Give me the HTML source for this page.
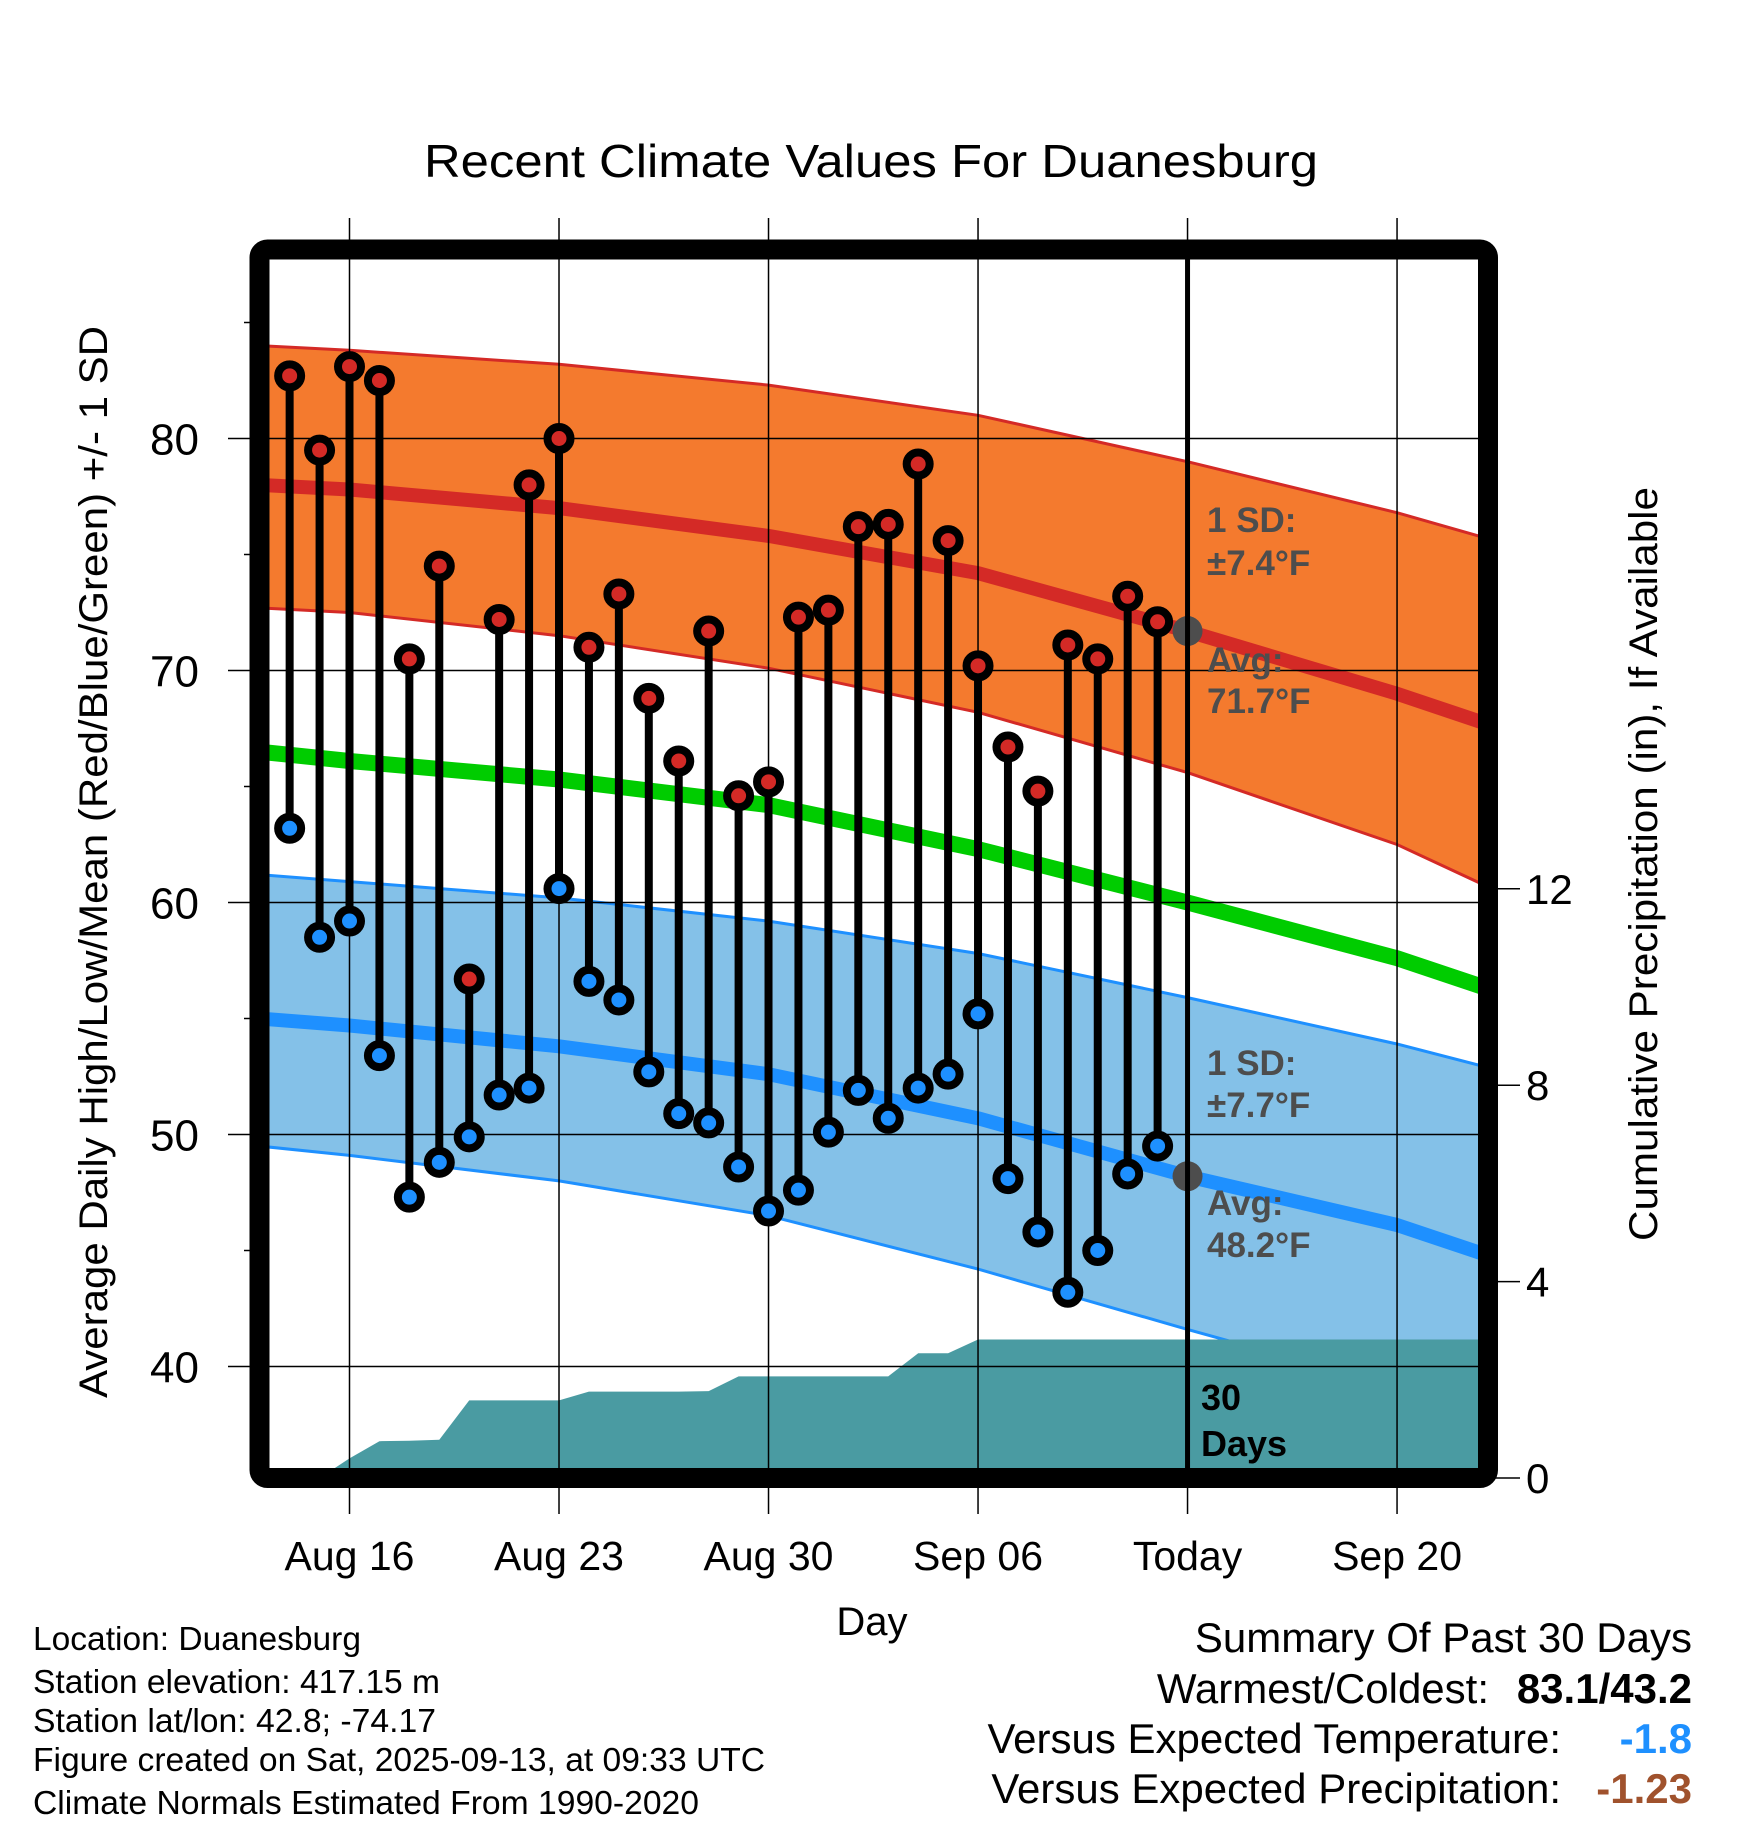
<!DOCTYPE html>
<html><head><meta charset="utf-8"><style>html,body{margin:0;padding:0;background:#fff}svg{display:block}text{font-family:"Liberation Sans",sans-serif}</style></head>
<body>
<svg id="chart" width="1748" height="1828" viewBox="0 0 1748 1828" xmlns="http://www.w3.org/2000/svg">
<defs><clipPath id="plotclip"><rect x="269" y="259" width="1209" height="1209"/></clipPath></defs>
<g id="layers" clip-path="url(#plotclip)"></g>
<g id="over"></g>
</svg>
<script>
const days = [-2,-1,0,1,2,3,4,5,6,7,8,9,10,11,12,13,14,15,16,17,18,19,20,21,22,23,24,25,26,27];
const highs = [82.7,79.5,83.1,82.5,70.5,74.5,56.7,72.2,78.0,80.0,71.0,73.3,68.8,66.1,71.7,64.6,65.2,72.3,72.6,76.2,76.3,78.9,75.6,70.2,66.7,64.8,71.1,70.5,73.2,72.1];
const lows = [63.2,58.5,59.2,53.4,47.3,48.8,49.9,51.7,52.0,60.6,56.6,55.8,52.7,50.9,50.5,48.6,46.7,47.6,50.1,51.9,50.7,52.0,52.6,55.2,48.1,45.8,43.2,45.0,48.3,49.5];
const precip = [0,0,0.4,0.75,0.76,0.78,1.58,1.58,1.58,1.58,1.76,1.76,1.76,1.76,1.77,2.07,2.07,2.07,2.07,2.07,2.07,2.54,2.54,2.82,2.82,2.82,2.82,2.82,2.82,2.82];
const normDays = [-3,0,7,14,21,28,35,38];
const hiUpper = [84.0,83.8,83.2,82.3,81.0,79.0,76.8,75.7];
const hiAvg = [78.0,77.8,77.0,75.8,74.2,71.7,69.0,67.7];
const hiLower = [72.7,72.5,71.5,70.1,68.2,65.6,62.5,60.7];
const meanAvg = [66.5,66.1,65.3,64.2,62.3,60.0,57.6,56.3];
const loUpper = [61.2,60.9,60.2,59.2,57.8,55.9,53.9,52.9];
const loAvg = [55.0,54.7,53.8,52.6,50.7,48.2,46.1,44.8];
const loLower = [49.5,49.1,48.0,46.5,44.2,41.6,39.1,37.7];
const xTickDays = [0,7,14,21,28,35];
const xTickLabels = ["Aug 16","Aug 23","Aug 30","Sep 06","Today","Sep 20"];
const yTicks = [40,50,60,70,80];
const yMinor = [45,55,65,75,85];
const pTicks = [0,4,8,12];

const NS="http://www.w3.org/2000/svg";
const X = d => 349.5 + d*29.93;
const Y = t => 438.5 + (80-t)*23.2;
const P = p => 1478 - p*49.1;
const layers=document.getElementById('layers'), over=document.getElementById('over');
function mk(tag, attrs, parent){const e=document.createElementNS(NS,tag);for(const k in attrs)e.setAttribute(k,attrs[k]);parent.appendChild(e);return e;}
function pts(xs, ys){return xs.map((d,i)=>X(d).toFixed(1)+','+Y(ys[i]).toFixed(1)).join(' ');}
function band(up, lo, fill, edge, name){
  const pth = pts(normDays,up)+' '+normDays.slice().reverse().map((d,i)=>X(d).toFixed(1)+','+Y(lo[lo.length-1-i]).toFixed(1)).join(' ');
  const b=mk('polygon',{points:pth,fill:fill},layers);
  
  
  mk('polyline',{points:pts(normDays,up),fill:'none',stroke:edge,'stroke-width':3},layers);
  mk('polyline',{points:pts(normDays,lo),fill:'none',stroke:edge,'stroke-width':3},layers);
}
band(hiUpper,hiLower,'#F47A2E','#D42A26','high-sd-band');
band(loUpper,loLower,'#84C1E8','#1E90FF','low-sd-band');
function line(ys,color,w,name){const l=mk('polyline',{points:pts(normDays,ys),fill:'none',stroke:color,'stroke-width':w,'stroke-linejoin':'round'},layers);
  
  }
line(hiAvg,'#D42A26',14,'avg-high-line');
line(meanAvg,'#00CC00',16,'avg-mean-line');
line(loAvg,'#1E90FF',14,'avg-low-line');
// precipitation area
let pp = X(days[0]).toFixed(1)+','+1478+' ';
pp += days.map((d,i)=>X(d).toFixed(1)+','+P(precip[i]).toFixed(1)).join(' ');
pp += ' '+X(39)+','+P(precip[precip.length-1]).toFixed(1)+' '+X(39)+',1478';
const pa=mk('polygon',{points:pp,fill:'#4A9BA2'},layers);


// gridlines
xTickDays.forEach(d=>{mk('line',{x1:X(d),x2:X(d),y1:218,y2:1514,stroke:'#000','stroke-width':1.5},over);});
yTicks.forEach(t=>{mk('line',{x1:228,x2:1488,y1:Y(t),y2:Y(t),stroke:'#000','stroke-width':1.5},over);});
yMinor.forEach(t=>{mk('line',{x1:244,x2:260,y1:Y(t),y2:Y(t),stroke:'#000','stroke-width':1.5},over);});
pTicks.forEach(p=>{mk('line',{x1:1488,x2:1520,y1:P(p),y2:P(p),stroke:'#000','stroke-width':1.5},over);
  const t=mk('text',{x:1526,y:P(p)+15,'font-size':42},over);t.textContent=p;
  
  });
// stems and markers
const g=mk('g',{'clip-path':'url(#plotclip)'},over);
days.forEach((d,i)=>{
  mk('line',{x1:X(d),x2:X(d),y1:Y(highs[i]),y2:Y(lows[i]),stroke:'#000','stroke-width':8},g);
});
days.forEach((d,i)=>{
  const h=mk('circle',{cx:X(d),cy:Y(highs[i]),r:11.5,fill:'#D42A26',stroke:'#000','stroke-width':8},g);
  
  
  const l=mk('circle',{cx:X(d),cy:Y(lows[i]),r:11.5,fill:'#1E90FF',stroke:'#000','stroke-width':8},g);
  
  
});
// today dots
mk('circle',{cx:X(28),cy:Y(hiAvg[5]),r:15,fill:'#4d4d4d'},over);
mk('circle',{cx:X(28),cy:Y(loAvg[5]),r:15,fill:'#4d4d4d'},over);
// annotations
function txt(s,x,y,size,attrs,name){const t=mk('text',Object.assign({x:x,y:y,'font-size':size},attrs||{}),over);t.textContent=s;
  
  return t;}
const ga={fill:'#4d4d4d','font-weight':'bold'};
txt('1 SD:',1207,532,35,ga,'high-sd-label');
txt('±7.4°F',1207,575,35,ga,'high-sd-value');
txt('Avg:',1207,672,35,ga,'high-avg-label');
txt('71.7°F',1207,713,35,ga,'high-avg-value');
txt('1 SD:',1207,1075,35,ga,'low-sd-label');
txt('±7.7°F',1207,1117,35,ga,'low-sd-value');
txt('Avg:',1207,1215,35,ga,'low-avg-label');
txt('48.2°F',1207,1257,35,ga,'low-avg-value');
txt('30',1201,1410,36,{'font-weight':'bold'},'days-count');
txt('Days',1201,1456,36,{'font-weight':'bold'},'days-label');
// frame
mk('rect',{x:259.5,y:249.5,width:1228.5,height:1228.5,rx:8,fill:'none',stroke:'#000','stroke-width':20},over);
mk('line',{x1:X(28),x2:X(28),y1:249,y2:1478,stroke:'#000','stroke-width':5},over);
// axis labels
yTicks.forEach(t=>txt(String(t),199,Y(t)+16,44,{'text-anchor':'end'},'y-tick-label'));
xTickDays.forEach((d,i)=>txt(xTickLabels[i],X(d),1570,41,{'text-anchor':'middle'},'x-tick-label'));
txt('Day',872,1635,40,{'text-anchor':'middle'},'x-axis-title');
txt('Recent Climate Values For Duanesburg',871,177,46,{'text-anchor':'middle',textLength:894,lengthAdjust:'spacingAndGlyphs'},'chart-title');
txt('Average Daily High/Low/Mean (Red/Blue/Green) +/- 1 SD',0,0,40,{'text-anchor':'middle',transform:'translate(107,862) rotate(-90)',textLength:1072,lengthAdjust:'spacingAndGlyphs'},'y-axis-title');
txt('Cumulative Precipitation (in), If Available',0,0,40,{'text-anchor':'middle',transform:'translate(1657,864) rotate(-90)',textLength:754,lengthAdjust:'spacingAndGlyphs'},'precip-axis-title');
// info
const info=['Location: Duanesburg','Station elevation: 417.15 m','Station lat/lon: 42.8; -74.17','Figure created on Sat, 2025-09-13, at 09:33 UTC','Climate Normals Estimated From 1990-2020'];
const infoY=[1650,1693,1732,1771,1814];
const infoLen=[328,407,403,732,666];
info.forEach((s,i)=>txt(s,33,infoY[i],33,{textLength:infoLen[i],lengthAdjust:'spacingAndGlyphs'},'station-info-line'));
txt('Summary Of Past 30 Days',1692,1652,42,{'text-anchor':'end'},'summary-title');
txt('Warmest/Coldest:',1489,1703,42,{'text-anchor':'end'},'warmest-coldest-label');
txt('83.1/43.2',1692,1703,42,{'text-anchor':'end','font-weight':'bold'},'warmest-coldest-value');
txt('Versus Expected Temperature:',1561,1753,42,{'text-anchor':'end'},'temp-anomaly-label');
txt('-1.8',1692,1753,42,{'text-anchor':'end','font-weight':'bold',fill:'#1E90FF'},'temp-anomaly-value');
txt('Versus Expected Precipitation:',1561,1803,42,{'text-anchor':'end'},'precip-anomaly-label');
txt('-1.23',1692,1803,42,{'text-anchor':'end','font-weight':'bold',fill:'#A0522D'},'precip-anomaly-value');
</script>
</body></html>
